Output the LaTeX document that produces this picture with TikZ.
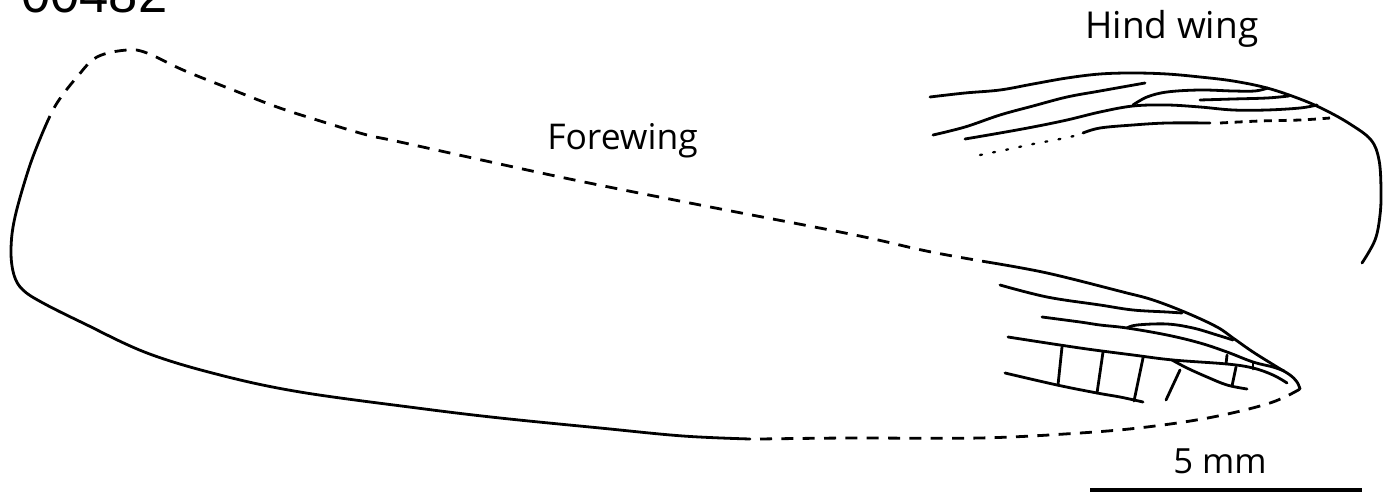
\documentclass[tikz,border=0pt]{standalone}
\usepackage{fontspec}
\newfontfamily\labelfont{Open Sans}
\newfontfamily\titlefont{Liberation Sans}
\begin{document}
\begin{tikzpicture}[x=0.75pt,y=-0.75pt,
  vein/.style={line width=2.1pt, line cap=round, line join=round},
  lostedge/.style={vein, line cap=butt, dash pattern=on 9pt off 7pt},
  lostvein/.style={vein, line cap=butt, dash pattern=on 6pt off 5pt},
  faintvein/.style={vein, line width=1.7pt, dash pattern=on 1.5pt off 8.5pt},
  wlabel/.style={inner sep=0pt, anchor=base west, font=\labelfont\fontsize{26.6pt}{30pt}\selectfont},
  scalebar/.style={line width=3pt}]
\useasboundingbox (0,0) rectangle (1394,495);
\clip (0,0) rectangle (1394,495);

% specimen number, running off the top edge
\node[inner sep=0pt, anchor=base west, font=\titlefont\fontsize{39.4pt}{44pt}\selectfont] (num) at (21,13) {00482};

% ---------------- forewing ----------------
% preserved margin: base and hind margin
\draw[vein] plot[smooth, tension=0.6] coordinates {(45,127) (30,165) (15,217) (11,250) (14,275) (23,290) (43,303) (83,323) (147,353) (220,375) (300,392) (417,408) (500,418) (600,428) (683,436) (750,439)};
% reconstructed margin: costa
\draw[lostedge] plot[smooth, tension=0.6] coordinates {(45,127) (57,103) (77,77) (97,57) (127,50) (147,53) (183,70) (233,90) (277,107) (317,120) (367,135) (400,142) (560,177) (700,205) (850,234) (917,249) (947,255) (987,262)};
% reconstructed margin: hind margin near apex
\draw[lostedge] plot[smooth, tension=0.6] coordinates {(760,439) (850,438) (980,438) (1080,433) (1147,427) (1213,417) (1270,403) (1300,389)};
% costa at apex
\draw[vein] plot[smooth, tension=0.6] coordinates {(987,262) (1047,273) (1123,292) (1153,300) (1187,313) (1217,327) (1233,338) (1253,352) (1277,367) (1290,375) (1297,382) (1300,389)};
% longitudinal veins
\draw[vein] plot[smooth, tension=0.6] coordinates {(1000,285) (1047,297) (1100,305) (1133,310) (1167,312) (1182,313)};
\draw[vein] plot[smooth, tension=0.6] coordinates {(1042,317) (1080,322) (1100,325) (1127,328) (1167,335) (1200,343) (1227,352) (1253,362) (1273,367) (1284,371)};
\draw[vein] plot[smooth, tension=0.6] coordinates {(1127,328) (1137,325) (1167,324) (1193,328) (1217,335) (1233,340)};
\draw[vein] plot[smooth, tension=0.6] coordinates {(1008,337) (1080,348) (1133,355) (1173,360) (1227,364) (1253,368) (1273,375) (1287,383)};
\draw[vein] plot[smooth, tension=0.6] coordinates {(1172,360) (1187,368) (1207,377) (1227,385) (1247,389)};
\draw[vein] plot[smooth, tension=0.6] coordinates {(1005,373) (1057,385) (1097,393) (1120,397) (1143,402)};
% cross veins
\draw[vein] (1062,347) -- (1058,385);
\draw[vein] (1103,352) -- (1097,393);
\draw[vein] (1143,358) -- (1134,401);
\draw[vein] (1180,370) -- (1166,400);
\draw[vein] (1227,355) -- (1226,364);
\draw[vein] (1253,362) -- (1253,369);
\draw[vein] (1236,367) -- (1232,386);

\node[wlabel] (fw) at (547,150) {Forewing};

% ---------------- hind wing ----------------
\draw[vein] plot[smooth, tension=0.6] coordinates {(930,97) (965,93) (1000,90) (1033,84) (1067,78) (1100,74) (1133,73) (1167,74) (1200,77) (1233,81) (1267,88) (1300,99) (1325,110) (1350,124) (1371,140) (1379,160) (1381,190) (1380,215) (1375,240) (1362,263)};
\draw[vein] plot[smooth, tension=0.6] coordinates {(933,135) (965,127) (1000,115) (1033,106) (1067,97) (1100,91) (1145,83)};
\draw[vein] plot[smooth, tension=0.6] coordinates {(965,139) (1000,133) (1033,127) (1067,120) (1100,112) (1133,106) (1167,105) (1200,107) (1233,110) (1267,110) (1300,108) (1317,105)};
\draw[vein] plot[smooth, tension=0.6] coordinates {(1133,105) (1147,97) (1167,92) (1200,90) (1233,91) (1255,91) (1268,88)};
\draw[vein] plot[smooth, tension=0.6] coordinates {(1200,100) (1233,99) (1267,98) (1289,96)};
\draw[vein] plot[smooth, tension=0.6] coordinates {(1083,133) (1100,128) (1133,125) (1167,123) (1210,123)};
\draw[lostvein] plot[smooth, tension=0.6] coordinates {(1220,123) (1260,121) (1300,120) (1330,118)};
\draw[faintvein] plot[smooth, tension=0.6] coordinates {(980,155) (1005,150) (1033,144) (1060,139) (1083,134)};

\node[wlabel, font=\labelfont\fontsize{27.8pt}{31pt}\selectfont] (hw) at (1085,39) {Hind wing};

% ---------------- scale ----------------
\coordinate (barL) at (1090,490);
\coordinate (barR) at (1362,490);
\draw[scalebar] (barL) -- (barR);
\node[wlabel, font=\labelfont\fontsize{26pt}{30pt}\selectfont] (scl) at (1173,473) {5 mm};
\end{tikzpicture}
\end{document}
